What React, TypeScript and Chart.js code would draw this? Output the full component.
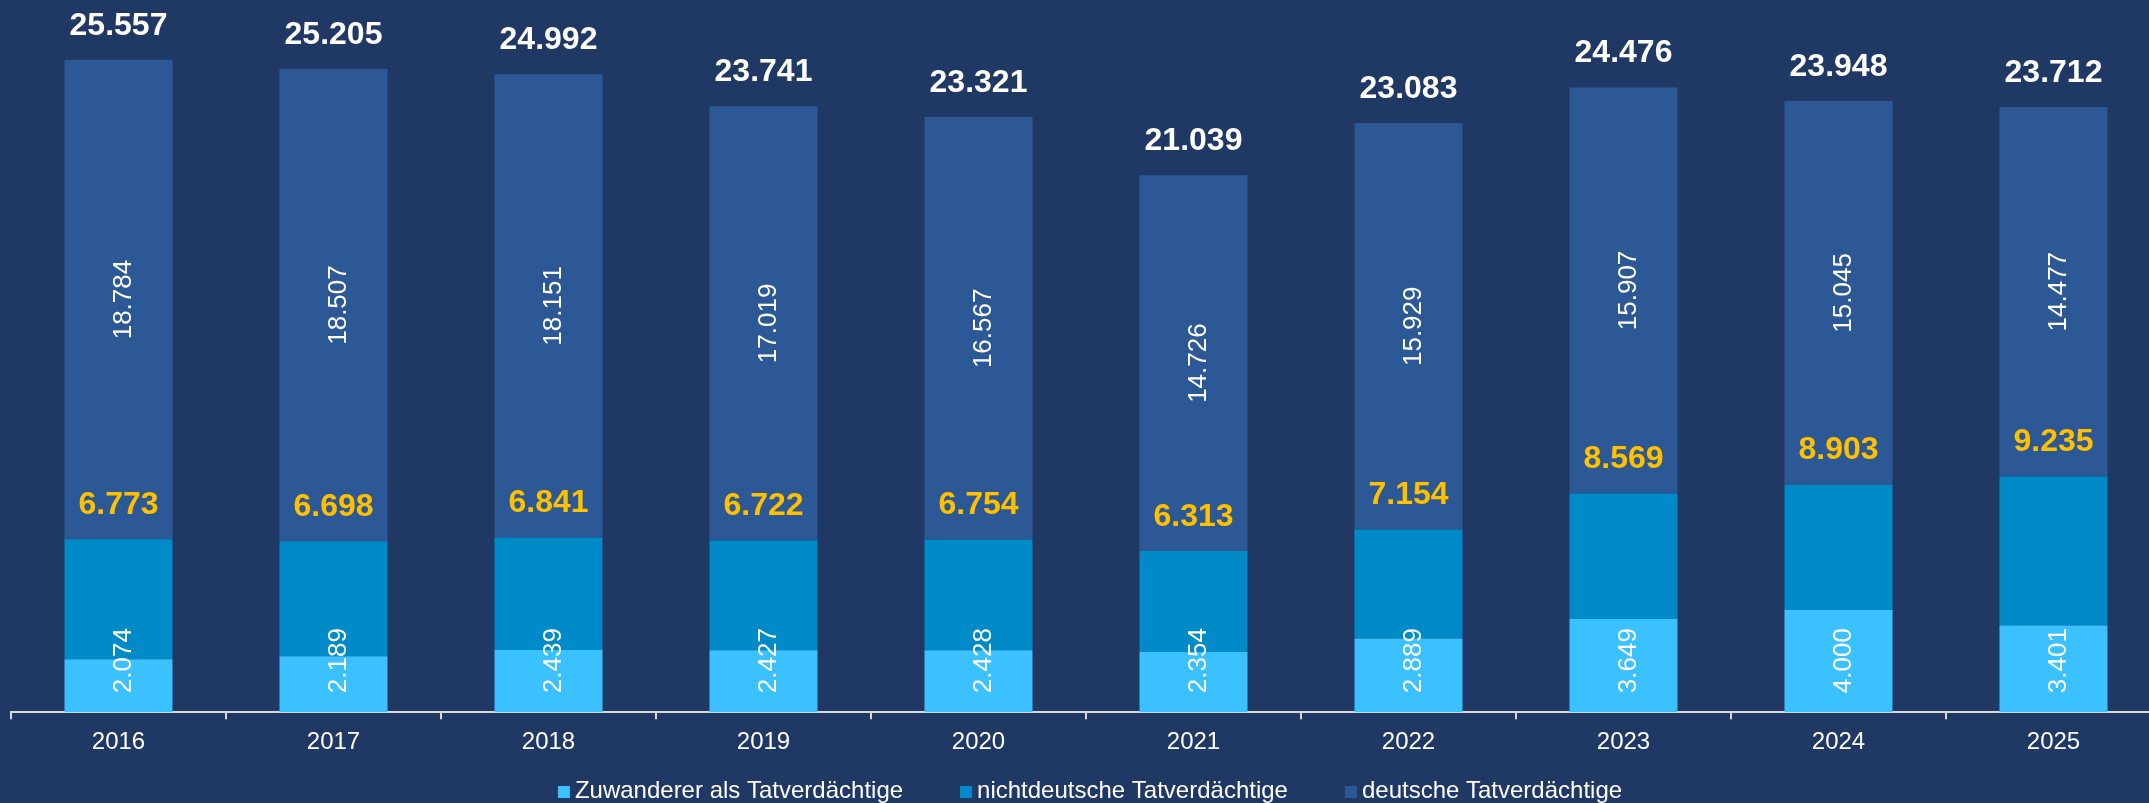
import { useEffect, useRef } from "react";
import { Chart, registerables } from "chart.js";

Chart.register(...registerables);

// ---- data ----
const years = ["2016", "2017", "2018", "2019", "2020", "2021", "2022", "2023", "2024", "2025"];
const zuwanderer = [2074, 2189, 2439, 2427, 2428, 2354, 2889, 3649, 4000, 3401];
const nichtdeutsche = [6773, 6698, 6841, 6722, 6754, 6313, 7154, 8569, 8903, 9235];
const deutsche = [18784, 18507, 18151, 17019, 16567, 14726, 15929, 15907, 15045, 14477];
const seriesNames = [
  "Zuwanderer als Tatverdächtige",
  "nichtdeutsche Tatverdächtige",
  "deutsche Tatverdächtige",
];

// ---- styles ----
const BG = "#203864";
const COLORS = ["#3BC1FF", "#008BC8", "#2D5896"];
const YELLOW = "#FFC000";
const AXIS = "#D9D9D9";
const FONT = "'Liberation Sans', Arial, sans-serif";

const fmt = (n: number) => String(n).replace(/\B(?=(\d{3})+(?!\d))/g, ".");

const labelPlugin = {
  id: "valueLabels",
  afterDatasetsDraw(chart: any) {
    const ctx = chart.ctx as CanvasRenderingContext2D;
    const m0 = chart.getDatasetMeta(0);
    const m1 = chart.getDatasetMeta(1);
    const m2 = chart.getDatasetMeta(2);
    const drawRot = (t: string, x: number, cy: number) => {
      ctx.save();
      ctx.translate(x + 12, cy);
      ctx.rotate(-Math.PI / 2);
      ctx.textAlign = "center";
      ctx.textBaseline = "alphabetic";
      ctx.fillText(t, 0, 0);
      ctx.restore();
    };
    ctx.save();
    for (let i = 0; i < years.length; i++) {
      const b0 = m0.data[i];
      const b1 = m1.data[i];
      const b2 = m2.data[i];
      const x = b0.x;
      // rotated white labels
      ctx.font = `26px ${FONT}`;
      ctx.fillStyle = "#FFFFFF";
      const t0 = fmt(zuwanderer[i]);
      const w0 = ctx.measureText(t0).width;
      let c0 = (b0.y + b0.base) / 2;
      c0 = Math.min(c0, b0.base - 19 - w0 / 2);
      drawRot(t0, x, c0);
      drawRot(fmt(deutsche[i]), x, (b2.y + b2.base) / 2);
      // bold labels
      ctx.font = `bold 32px ${FONT}`;
      ctx.textAlign = "center";
      ctx.textBaseline = "alphabetic";
      ctx.fillStyle = YELLOW;
      ctx.fillText(fmt(nichtdeutsche[i]), x, b1.y - 25.5);
      ctx.fillStyle = "#FFFFFF";
      ctx.fillText(fmt(deutsche[i] + nichtdeutsche[i]), x, b2.y - 25);
    }
    ctx.restore();
  },
};

const legendPlugin = {
  id: "bottomLegend",
  afterDraw(chart: any) {
    const ctx = chart.ctx as CanvasRenderingContext2D;
    const area = chart.chartArea;
    ctx.save();
    ctx.font = `24px ${FONT}`;
    const box = 12;
    const gapText = 5;
    const gapItem = 57;
    const widths = seriesNames.map((n) => ctx.measureText(n).width);
    const total =
      widths.reduce((a, w) => a + box + gapText + w, 0) + gapItem * (seriesNames.length - 1);
    let x = (area.left + area.right) / 2 - total / 2 + 4;
    const baseline = chart.height - 5;
    ctx.textAlign = "left";
    ctx.textBaseline = "alphabetic";
    seriesNames.forEach((n, i) => {
      ctx.fillStyle = COLORS[i];
      ctx.fillRect(x, baseline - box, box, box);
      ctx.fillStyle = "#FFFFFF";
      ctx.fillText(n, x + box + gapText, baseline);
      x += box + gapText + widths[i] + gapItem;
    });
    ctx.restore();
  },
};

export default function App() {
  const ref = useRef<HTMLCanvasElement>(null);

  useEffect(() => {
    const canvas = ref.current;
    if (!canvas) return;
    const chart = new Chart(canvas, {
      type: "bar",
      data: {
        labels: years,
        datasets: [
          {
            label: seriesNames[0],
            data: zuwanderer,
            backgroundColor: COLORS[0],
            borderWidth: 0,
          },
          {
            label: seriesNames[1],
            data: nichtdeutsche.map((v, i) => v - zuwanderer[i]),
            backgroundColor: COLORS[1],
            borderWidth: 0,
          },
          {
            label: seriesNames[2],
            data: deutsche,
            backgroundColor: COLORS[2],
            borderWidth: 0,
          },
        ],
      },
      options: {
        responsive: false,
        maintainAspectRatio: false,
        animation: false,
        devicePixelRatio: 1,
        layout: { padding: { left: 11, right: 0, top: 0, bottom: 37 } },
        datasets: { bar: { barPercentage: 0.5023, categoryPercentage: 1 } },
        plugins: {
          legend: { display: false },
          tooltip: { enabled: false },
        },
        scales: {
          x: {
            stacked: true,
            grid: {
              display: true,
              drawOnChartArea: false,
              drawTicks: true,
              tickLength: 7,
              color: AXIS,
              lineWidth: 2,
              offset: true,
            },
            border: { display: true, color: AXIS, width: 2 },
            ticks: {
              color: "#FFFFFF",
              font: { family: FONT, size: 24 },
              padding: 9,
            },
          },
          y: {
            stacked: true,
            display: false,
            min: 0,
            max: 27900,
          },
        },
      },
      plugins: [labelPlugin, legendPlugin],
    });
    return () => chart.destroy();
  }, []);

  return (
    <div
      style={{
        position: "fixed",
        left: 0,
        top: 0,
        width: 2149,
        height: 803,
        overflow: "hidden",
        background: BG,
      }}
    >
      <canvas
        ref={ref}
        width={2161}
        height={803}
        style={{ display: "block", width: 2161, height: 803 }}
      />
    </div>
  );
}
